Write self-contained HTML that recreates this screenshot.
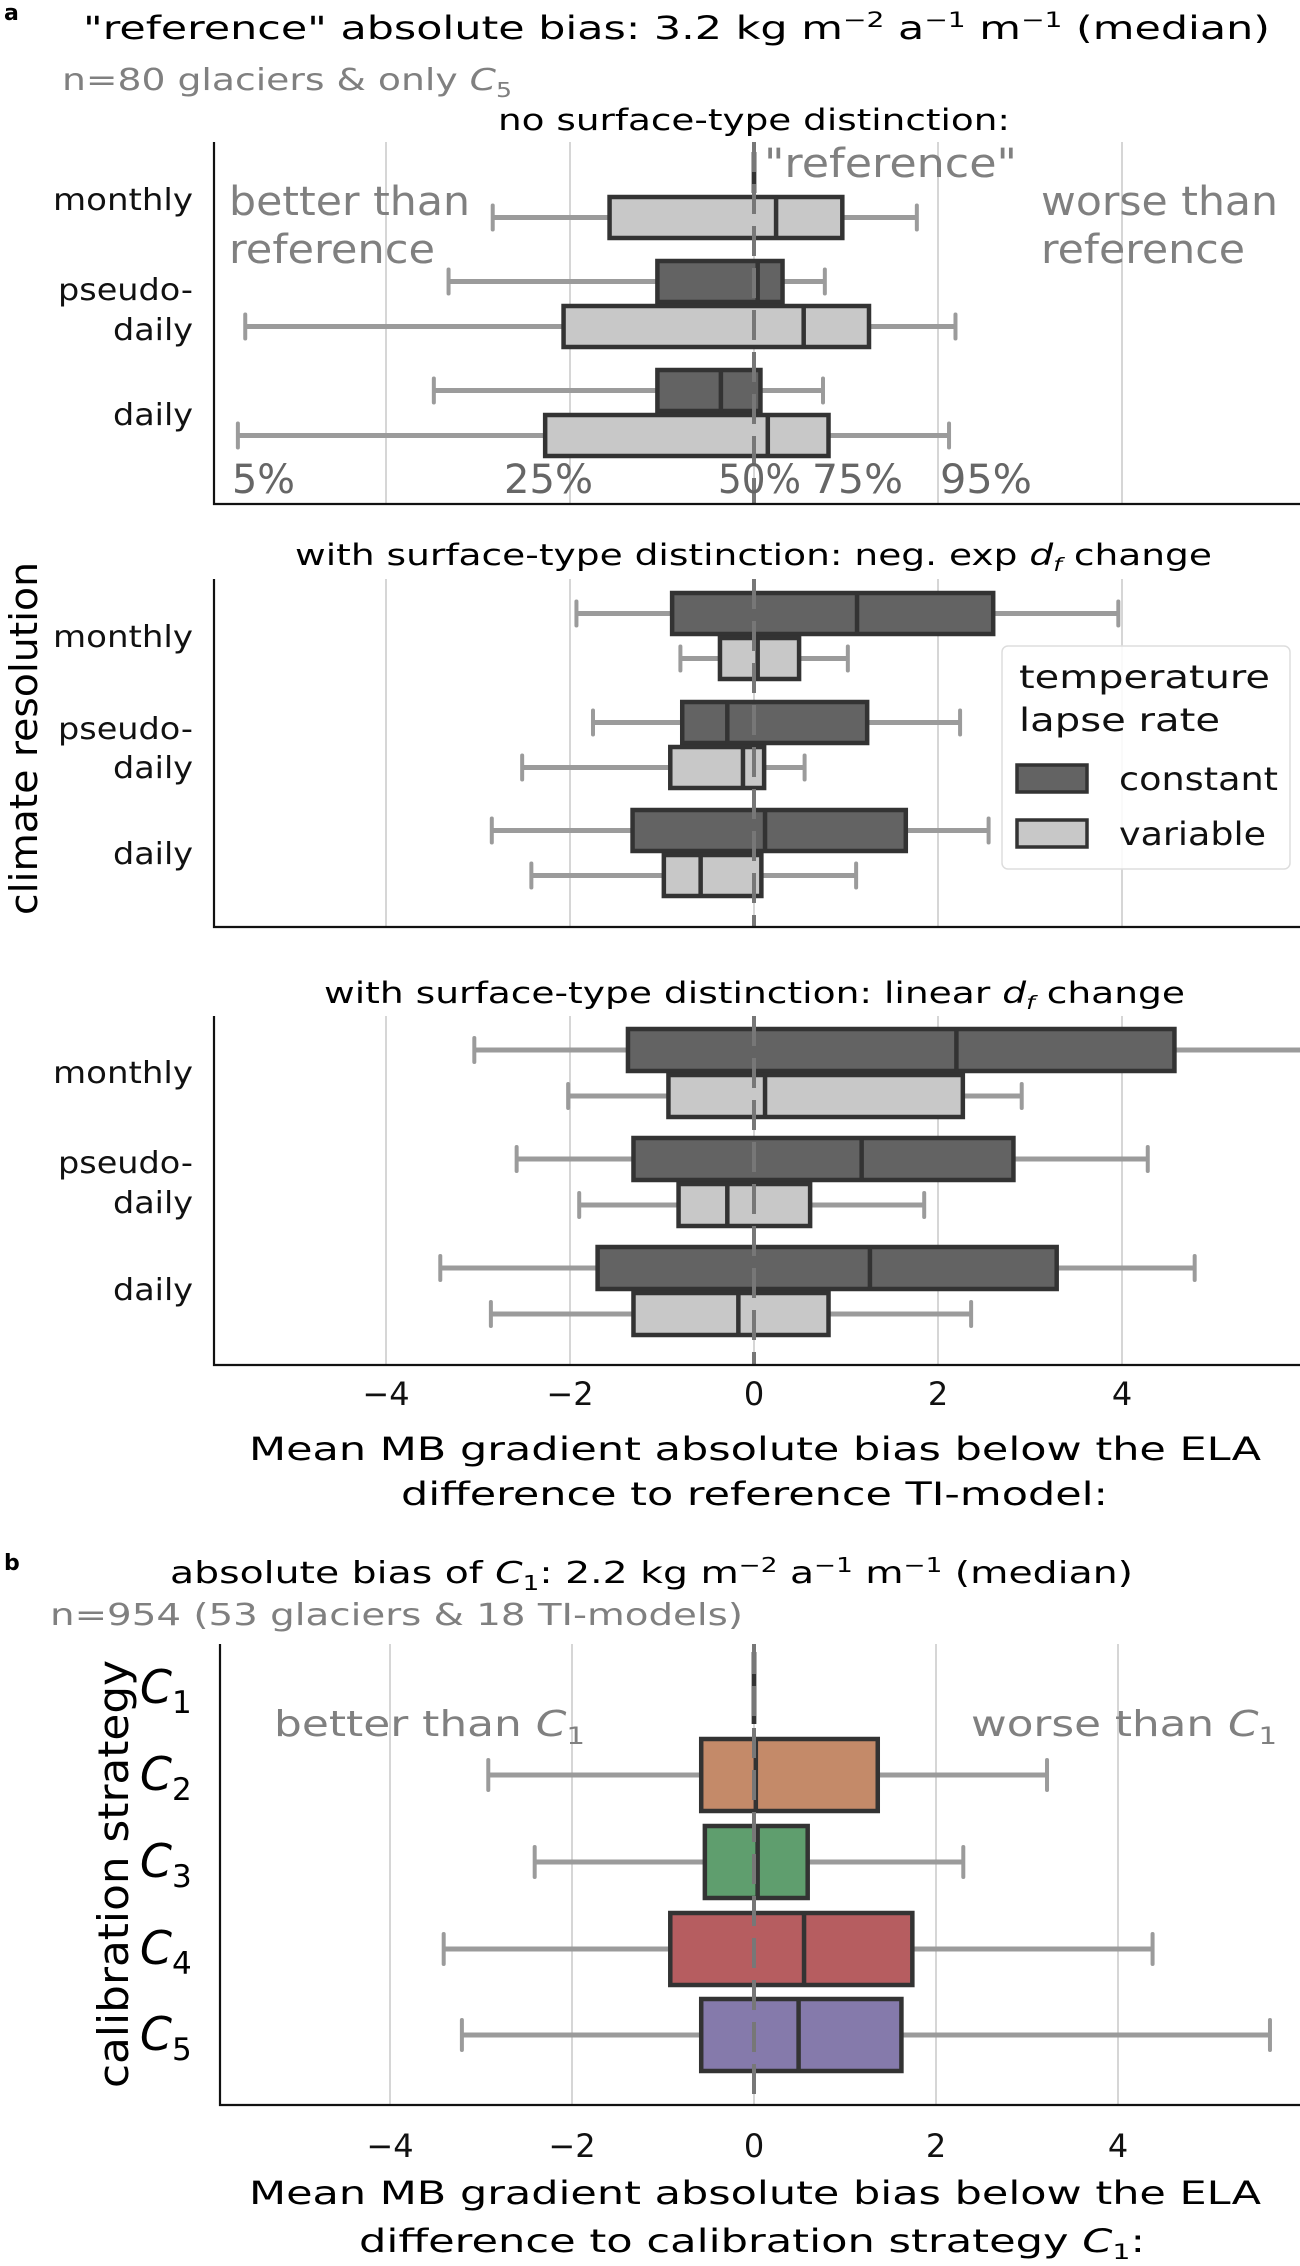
<!DOCTYPE html>
<html><head><meta charset="utf-8"><style>
html,body{margin:0;padding:0;background:#fff;}
svg{display:block;font-family:"DejaVu Sans","Liberation Sans",sans-serif;}
</style></head><body>
<svg id="fig" width="1300" height="2266" viewBox="0 0 1300 2266" xmlns="http://www.w3.org/2000/svg">
<text x="4" y="20" font-size="22" font-weight="bold">a</text>
<text x="83" y="39" font-size="32" textLength="1187" lengthAdjust="spacingAndGlyphs">"reference" absolute bias: 3.2 kg m<tspan dy="-12" font-size="21">−2</tspan><tspan dy="12"> a</tspan><tspan dy="-12" font-size="21">−1</tspan><tspan dy="12"> m</tspan><tspan dy="-12" font-size="21">−1</tspan><tspan dy="12"> (median)</tspan></text>
<text x="62" y="90" font-size="30" fill="#808080" textLength="450" lengthAdjust="spacingAndGlyphs">n=80 glaciers &amp; only <tspan font-style="italic">C</tspan><tspan dy="7" font-size="20">5</tspan></text>
<text x="498" y="130" font-size="29" textLength="512" lengthAdjust="spacingAndGlyphs">no surface-type distinction:</text>
<text x="295" y="565" font-size="29" textLength="917" lengthAdjust="spacingAndGlyphs">with surface-type distinction: neg. exp <tspan font-style="italic">d</tspan><tspan font-style="italic" dy="6" font-size="19">f</tspan><tspan dy="-6"> change</tspan></text>
<text x="324" y="1003" font-size="29" textLength="861" lengthAdjust="spacingAndGlyphs">with surface-type distinction: linear <tspan font-style="italic">d</tspan><tspan font-style="italic" dy="6" font-size="19">f</tspan><tspan dy="-6"> change</tspan></text>
<text transform="translate(37,915) rotate(-90)" font-size="38" textLength="353" lengthAdjust="spacingAndGlyphs">climate resolution</text>
<text x="249" y="1460" font-size="32" textLength="1012" lengthAdjust="spacingAndGlyphs">Mean MB gradient absolute bias below the ELA</text>
<text x="401" y="1505" font-size="32" textLength="707" lengthAdjust="spacingAndGlyphs">difference to reference TI-model:</text>
<text x="4" y="1570" font-size="22" font-weight="bold">b</text>
<text x="170" y="1583" font-size="30" textLength="963" lengthAdjust="spacingAndGlyphs">absolute bias of <tspan font-style="italic">C</tspan><tspan dy="7" font-size="20">1</tspan><tspan dy="-7">: 2.2 kg m</tspan><tspan dy="-11" font-size="20">−2</tspan><tspan dy="11"> a</tspan><tspan dy="-11" font-size="20">−1</tspan><tspan dy="11"> m</tspan><tspan dy="-11" font-size="20">−1</tspan><tspan dy="11"> (median)</tspan></text>
<text x="50" y="1625" font-size="30" fill="#808080" textLength="693" lengthAdjust="spacingAndGlyphs">n=954 (53 glaciers &amp; 18 TI-models)</text>
<text transform="translate(128,2088) rotate(-90)" font-size="42" textLength="428" lengthAdjust="spacingAndGlyphs">calibration strategy</text>
<text x="249" y="2204" font-size="32" textLength="1012" lengthAdjust="spacingAndGlyphs">Mean MB gradient absolute bias below the ELA</text>
<text x="359" y="2252" font-size="32" textLength="786" lengthAdjust="spacingAndGlyphs">difference to calibration strategy <tspan font-style="italic">C</tspan><tspan dy="7" font-size="21">1</tspan><tspan dy="-7">:</tspan></text>
<g id="layer"></g>
</svg>
<script>
// panel a data: [whiskerLow, q1, median, q3, whiskerHigh]
const categoriesA = ["monthly", "pseudo-daily", "daily"];
const hues = ["constant", "variable"];
const p1Constant = [[0,0,0,0,0], [-3.32,-1.05,0.04,0.31,0.77], [-3.48,-1.05,-0.36,0.07,0.75]];
const p1Variable = [[-2.84,-1.57,0.24,0.96,1.77], [-5.53,-2.07,0.54,1.25,2.19], [-5.61,-2.27,0.15,0.81,2.12]];
const p2Constant = [[-1.93,-0.89,1.12,2.6,3.96], [-1.75,-0.78,-0.29,1.23,2.24], [-2.85,-1.32,0.12,1.65,2.55]];
const p2Variable = [[-0.80,-0.37,0.04,0.49,1.02], [-2.52,-0.91,-0.12,0.11,0.55], [-2.42,-0.98,-0.58,0.08,1.11]];
const p3Constant = [[-3.04,-1.37,2.2,4.57,6.2], [-2.58,-1.31,1.17,2.82,4.28], [-3.41,-1.70,1.26,3.29,4.79]];
const p3Variable = [[-2.02,-0.93,0.12,2.27,2.91], [-1.90,-0.82,-0.29,0.61,1.85], [-2.86,-1.31,-0.17,0.81,2.36]];
// panel b data
const categoriesB = ["C1","C2","C3","C4","C5"];
const pbValues = [[0,0,0,0,0], [-2.92,-0.58,0.02,1.36,3.22], [-2.41,-0.54,0.04,0.59,2.30], [-3.41,-0.92,0.55,1.74,4.38], [-3.21,-0.58,0.49,1.62,5.67]];
const xTicks = [-4, -2, 0, 2, 4];
const xTickLabels = ["−4", "−2", "0", "2", "4"];
const pctLabels = ["5%", "25%", "50%", "75%", "95%"];

const NS = "http://www.w3.org/2000/svg";
const layer = document.getElementById("layer");
function mk(tag, attrs, parent) {
  const e = document.createElementNS(NS, tag);
  for (const k in attrs) e.setAttribute(k, attrs[k]);
  (parent || layer).appendChild(e);
  return e;
}
const hueFill = {constant: "#636363", variable: "#c8c8c8"};
const bColors = ["#555555", "#c48a69", "#5f9e6e", "#b65d60", "#857aab"];

function panel(cfg) {
  const g = mk("g", {});
  
  
  const X = v => cfg.x0 + cfg.k * v;
  const clip = "clip-" + cfg.name;
  const cp = mk("clipPath", {id: clip}, g);
  mk("rect", {x: cfg.left, y: cfg.top - 10, width: 1300 - cfg.left, height: cfg.bottom - cfg.top + 10}, cp);
  xTicks.forEach(t => {
    const l = mk("line", {x1: X(t), x2: X(t), y1: cfg.top, y2: cfg.bottom, stroke: "#cccccc", "stroke-width": 1.6}, g);
    
    
  });
  const bg = mk("g", {"clip-path": "url(#" + clip + ")"}, g);
  function box(v, y0, h, fill, nm) {
    const bx = mk("g", {}, bg);
    
    
    const yc = y0 + h / 2;
    const wc = "#9b9b9b";
    mk("line", {x1: X(v[0]), x2: X(v[1]), y1: yc, y2: yc, stroke: wc, "stroke-width": 5}, bx);
    mk("line", {x1: X(v[3]), x2: X(v[4]), y1: yc, y2: yc, stroke: wc, "stroke-width": 5}, bx);
    const ch = cfg.capH;
    mk("line", {x1: X(v[0]), x2: X(v[0]), y1: yc - ch/2, y2: yc + ch/2, stroke: wc, "stroke-width": 4, "stroke-linecap": "round"}, bx);
    mk("line", {x1: X(v[4]), x2: X(v[4]), y1: yc - ch/2, y2: yc + ch/2, stroke: wc, "stroke-width": 4, "stroke-linecap": "round"}, bx);
    mk("path", {d: `M${X(v[1])},${y0+2}H${X(v[3])}V${y0+h-2}H${X(v[1])}Z`, fill: fill, stroke: "#333333", "stroke-width": 4.5}, bx);
    mk("line", {x1: X(v[2]), x2: X(v[2]), y1: y0 + 2, y2: y0 + h - 2, stroke: "#333333", "stroke-width": 4.5}, bx);
  }
  cfg.draw(box);
  const z = mk("line", {x1: X(0), x2: X(0), y1: cfg.top, y2: cfg.bottom, stroke: "#777777", "stroke-width": 4, "stroke-dasharray": "30,12"}, g);
  
  
  const ax = mk("path", {d: `M${cfg.left},${cfg.top}V${cfg.bottom}H1300`, fill: "none", stroke: "#111", "stroke-width": 2.2}, g);
  
  
  return X;
}
function label(x, y, txt, size, anchor, nm, fill, len) {
  const t = mk("text", {x: x, y: y, "font-size": size, "text-anchor": anchor, fill: fill || "#111"});
  if (len) { t.setAttribute("textLength", len); t.setAttribute("lengthAdjust", "spacingAndGlyphs"); }
  t.textContent = txt;
  
  
  return t;
}
function catLabels(b) {
  label(53, b[0], "monthly", 30, "start", "y-tick-label", "#111", 140);
  label(58, b[1], "pseudo-", 30, "start", "y-tick-label", "#111", 135);
  label(113, b[2], "daily", 30, "start", "y-tick-label", "#111", 80);
  label(113, b[3], "daily", 30, "start", "y-tick-label", "#111", 80);
}
const panelsA = [
  {name: "subplot-no-distinction", top: 142, bottom: 504, centers: [195, 304, 413], h: 45, cons: p1Constant, vari: p1Variable, lab: [210, 300, 340, 425]},
  {name: "subplot-neg-exp", top: 579, bottom: 927, centers: [636, 745, 853], h: 45, cons: p2Constant, vari: p2Variable, lab: [647, 739, 778, 864]},
  {name: "subplot-linear", top: 1016, bottom: 1365, centers: [1073, 1182, 1291], h: 46, cons: p3Constant, vari: p3Variable, lab: [1083, 1173, 1213, 1300]}
];
panelsA.forEach(p => {
  panel({name: p.name, x0: 754, k: 92, left: 214, top: p.top, bottom: p.bottom, capH: 24, draw: box => {
    categoriesA.forEach((c, i) => {
      box(p.cons[i], p.centers[i] - p.h, p.h, hueFill.constant, "box-" + c + "-constant");
      box(p.vari[i], p.centers[i], p.h, hueFill.variable, "box-" + c + "-variable");
    });
  }});
  catLabels(p.lab);
});
// panel 1 annotations
label(229, 215, "better than", 40, "start", "better-annotation", "#808080", 241);
label(229, 263, "reference", 40, "start", "better-annotation", "#808080", 206);
label(1041, 215, "worse than", 40, "start", "worse-annotation", "#808080", 237);
label(1041, 263, "reference", 40, "start", "worse-annotation", "#808080", 204);
label(764, 177, "\"reference\"", 40, "start", "reference-annotation", "#808080", 253);
const pctX = [232, 504, 718, 812, 940];
const pctW = [63, 89, 83, 91, 92];
pctLabels.forEach((t, i) => label(pctX[i], 493, t, 40, "start", "percentile-label", "#666666", pctW[i]));
xTicks.forEach((t, i) => label(754 + 92 * t, 1405, xTickLabels[i], 32, "middle", "x-tick-label-a"));
// legend
const lg = mk("g", {});


mk("rect", {x: 1002, y: 646, width: 288, height: 223, rx: 6, fill: "rgba(255,255,255,0.85)", stroke: "#dddddd", "stroke-width": 1.5}, lg);
label(1019, 688, "temperature", 32, "start", "legend-title", "#111", 251);
label(1019, 731, "lapse rate", 32, "start", "legend-title", "#111", 201);
const legW = [159, 147];
hues.forEach((h, i) => {
  const y = 765 + i * 55;
  const r = mk("rect", {x: 1017, y: y, width: 70, height: 27, fill: hueFill[h], stroke: "#333", "stroke-width": 3.5}, lg);
  
  
  label(1119, y + 25, h, 32, "start", "legend-entry-" + h, "#111", legW[i]);
});
// panel b
const centersB = [1688, 1775, 1862, 1949, 2035];
const XB = panel({name: "subplot-calibration", x0: 754, k: 91, left: 220, top: 1644, bottom: 2105, capH: 30, draw: box => {
  categoriesB.forEach((c, i) => box(pbValues[i], centersB[i] - 38, 76, bColors[i], "box-" + c));
}});
categoriesB.forEach((c, i) => {
  const t = mk("text", {x: 172, y: centersB[i] + 15, "font-size": 46, "text-anchor": "end", "font-style": "italic"});
  t.textContent = "C";
  
  
  const s = mk("text", {x: 172, y: centersB[i] + 25, "font-size": 31});
  s.textContent = c.slice(1);
  
  
});
const bt = label(274, 1736, "better than ", 36, "start", "better-annotation-b", "#808080", 311);
const bts = mk("tspan", {"font-style": "italic"}, bt); bts.textContent = "C";
const bts2 = mk("tspan", {dy: 8, "font-size": 24}, bt); bts2.textContent = "1";
const wt = label(971, 1736, "worse than ", 36, "start", "worse-annotation-b", "#808080", 306);
const wts = mk("tspan", {"font-style": "italic"}, wt); wts.textContent = "C";
const wts2 = mk("tspan", {dy: 8, "font-size": 24}, wt); wts2.textContent = "1";
xTicks.forEach((t, i) => label(XB(t), 2157, xTickLabels[i], 32, "middle", "x-tick-label-b"));
</script>
</body></html>
